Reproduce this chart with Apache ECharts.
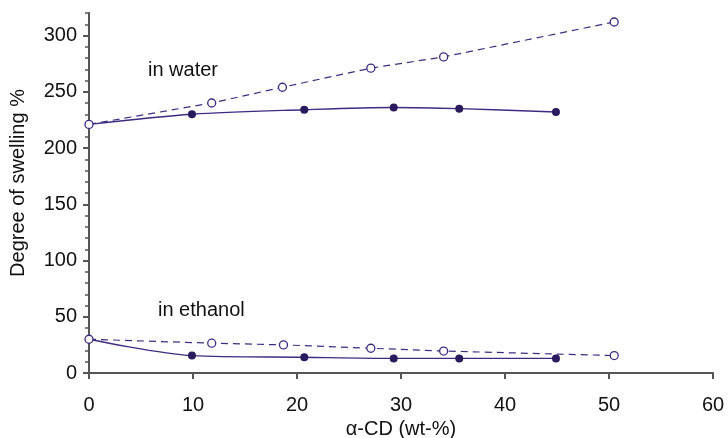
<!DOCTYPE html>
<html>
<head>
<meta charset="utf-8">
<script src="https://cdn.jsdelivr.net/npm/echarts@6/dist/echarts.min.js"></script>
<style>
  html, body { margin: 0; padding: 0; background: #fff; }
  #chart { width: 728px; height: 438px; }
</style>
</head>
<body>
<div id="chart"></div>
<script>
// α-CD content (wt-%) and degree of swelling (%)
const waterOpenX = [0, 11.8, 18.6, 27.1, 34.1, 50.5]
const waterOpenY = [221, 240, 254, 271, 281, 312]
const waterFilledX = [0, 9.9, 20.7, 29.3, 35.6, 44.9]
const waterFilledY = [221, 230, 234, 236, 235, 232]
const ethanolOpenX = [0, 11.8, 18.7, 27.1, 34.1, 50.5]
const ethanolOpenY = [30, 26.5, 25, 22, 19.5, 15.5]
const ethanolFilledX = [0, 9.9, 20.7, 29.3, 35.6, 44.9]
const ethanolFilledY = [30, 15.5, 14, 13, 13, 13]
const xTicks = [0, 10, 20, 30, 40, 50, 60]
const yMajorTicks = [0, 50, 100, 150, 200, 250, 300]

const lineColor = '#3e2b80'
const dotColor = '#2c1a5e'
const font = 'Liberation Sans, Arial, sans-serif'

const chart = echarts.init(document.getElementById('chart'))

// filled series share the first point with the open ones, so no marker there
const pairs = (xs, ys, hideFirst) => xs.map((x, i) =>
  hideFirst && i === 0 ? { value: [x, ys[i]], symbol: 'none' } : [x, ys[i]])

const solidSeries = (xs, ys) => ({
  type: 'line',
  data: pairs(xs, ys, true),
  smooth: 0.3,
  symbol: 'circle',
  symbolSize: 8,
  z: 2,
  lineStyle: { color: lineColor, width: 1.3 },
  itemStyle: { color: dotColor, borderWidth: 0 }
})

const dashedSeries = (xs, ys) => ({
  type: 'line',
  data: pairs(xs, ys, false),
  symbol: 'circle',
  symbolSize: 8,
  z: 3,
  lineStyle: { color: lineColor, width: 1.2, type: [7, 5] },
  itemStyle: { color: '#fff', borderColor: lineColor, borderWidth: 1.3 }
})

const axisLine = { show: true, lineStyle: { color: '#555', width: 2 } }

const option = {
  animation: false,
  grid: { left: 89, right: 15, top: 13, bottom: 65, containLabel: false, outerBoundsMode: 'none' },
  xAxis: {
    type: 'value',
    min: 0,
    max: 60,
    interval: 10,
    name: 'α-CD (wt-%)',
    nameLocation: 'middle',
    nameGap: 42,
    nameTextStyle: { fontFamily: font, fontSize: 20, color: '#111' },
    axisLine: axisLine,
    axisTick: { show: true, length: 6, customValues: xTicks, lineStyle: { color: '#555', width: 2 } },
    axisLabel: { customValues: xTicks, fontFamily: font, fontSize: 20, color: '#111', margin: 22 },
    splitLine: { show: false }
  },
  yAxis: [
    {
      type: 'value',
      min: 0,
      max: 320,
      interval: 10,
      name: 'Degree of swelling %',
      nameLocation: 'middle',
      nameGap: 61,
      nameTextStyle: { fontFamily: font, fontSize: 20, color: '#111', padding: [0, 0, 0, 20] },
      axisLine: axisLine,
      axisTick: { show: true, length: 4, lineStyle: { color: '#555', width: 1.5 } },
      axisLabel: { show: false },
      splitLine: { show: false }
    },
    {
      type: 'value',
      min: 0,
      max: 320,
      position: 'left',
      axisLine: { show: false },
      axisTick: { show: true, length: 6, customValues: yMajorTicks, lineStyle: { color: '#555', width: 2 } },
      axisLabel: { customValues: yMajorTicks, fontFamily: font, fontSize: 20, color: '#111', margin: 12 },
      splitLine: { show: false }
    }
  ],
  graphic: [
    { type: 'text', left: 148, top: 60, style: { text: 'in water', font: '20px ' + font, fill: '#111' } },
    { type: 'text', left: 158, top: 300, style: { text: 'in ethanol', font: '20px ' + font, fill: '#111' } }
  ],
  series: [
    solidSeries(waterFilledX, waterFilledY),
    solidSeries(ethanolFilledX, ethanolFilledY),
    dashedSeries(waterOpenX, waterOpenY),
    dashedSeries(ethanolOpenX, ethanolOpenY)
  ]
}
chart.setOption(option)
</script>
</body>
</html>
